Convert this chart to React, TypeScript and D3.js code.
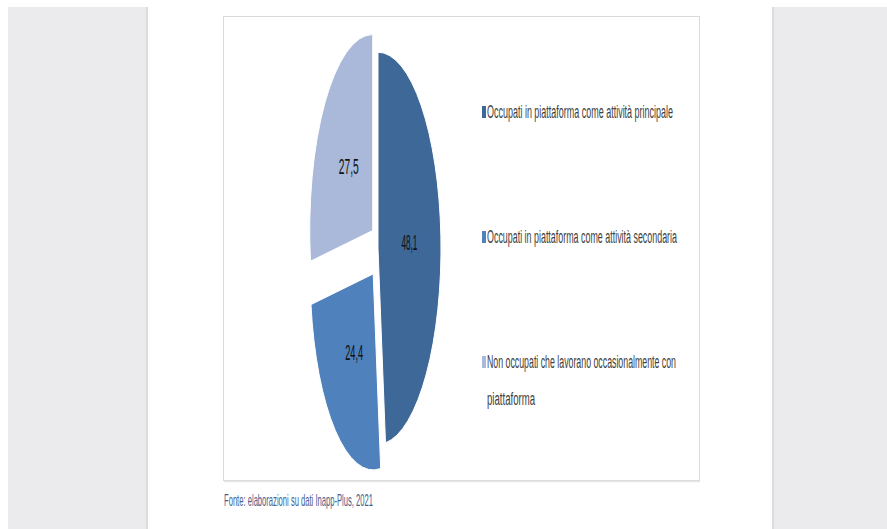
import React from "react";
import * as d3 from "d3";

const categories = [
  "Occupati in piattaforma come attività principale",
  "Occupati in piattaforma come attività secondaria",
  "Non occupati che lavorano occasionalmente con piattaforma",
];
const values = [48.1, 24.4, 27.5];
const valueLabels = ["48,1", "24,4", "27,5"];
const legendLines = [
  ["Occupati in piattaforma come attività principale"],
  ["Occupati in piattaforma come attività secondaria"],
  ["Non occupati che lavorano occasionalmente con", "piattaforma"],
];
const source = "Fonte: elaborazioni su dati Inapp-Plus, 2021";

const colors = ["#3e6898", "#4f81bd", "#aab9d9"];
const W = 887;
const H = 529;
const FONT = "'Liberation Sans Narrow', 'Liberation Sans', Arial, sans-serif";

export default function App() {
  const R = 196;
  const sx = 63 / 196;
  const cx = 375;
  const cy = 250;
  const explode = 30;
  const kx = 0.1;

  const pie = d3.pie<number>().sort(null).value((d) => d).startAngle(0);
  const arcs = pie(values);
  const arc = d3.arc<d3.PieArcDatum<number>>().innerRadius(0).outerRadius(R);

  const labelWidths = [16, 18, 20];
  const legendWidths = [[187], [191], [190, 49]];
  const legendBaselines = [[118], [243], [368, 405]];

  return (
    <svg
      width={W}
      height={H}
      style={{ position: "fixed", left: 0, top: 0, display: "block" }}
      fontFamily={FONT}
    >
      <rect x={0} y={0} width={W} height={H} fill="#ffffff" />
      <rect x={8} y={7} width={140} height={H - 7} fill="#ebebed" />
      <rect x={146} y={7} width={2} height={H - 7} fill="#dcdcdf" />
      <rect x={772} y={7} width={W - 772} height={H - 7} fill="#ebebed" />
      <rect x={772} y={7} width={2} height={H - 7} fill="#dcdcdf" />

      <rect x={223.5} y={16.5} width={476} height={464} fill="#ffffff" stroke="#d9d9d9" strokeWidth={1} />
      <line x1={224} x2={700} y1={481.5} y2={481.5} stroke="#e6e6e6" strokeWidth={1.5} />

      {arcs.map((a, i) => {
        const mid = (a.startAngle + a.endAngle) / 2;
        const ox = explode * kx * Math.sin(mid);
        const oy = -explode * Math.cos(mid);
        const tx = cx + ox;
        const ty = cy + oy;
        const [lu, lv] = arc.centroid(a);
        return (
          <g key={categories[i]}>
            <g transform={`translate(${tx},${ty}) scale(${sx},1)`}>
              <path
                d={arc(a) || ""}
                fill={colors[i]}
                stroke="#ffffff"
                strokeWidth={1}
                vectorEffect="non-scaling-stroke"
              />
            </g>
            <text
              x={tx + lu * sx}
              y={ty + lv + 7.5}
              textAnchor="middle"
              fontSize={22}
              fill="#111"
              textLength={labelWidths[i]}
              lengthAdjust="spacingAndGlyphs"
            >
              {valueLabels[i]}
            </text>
          </g>
        );
      })}

      {legendLines.map((lines, i) => (
        <g key={"lg" + i}>
          <rect x={482} y={legendBaselines[i][0] - 12} width={4} height={12} fill={colors[i]} />
          {lines.map((ln, j) => (
            <text
              key={j}
              x={487}
              y={legendBaselines[i][j]}
              fontSize={18}
              fill="#404040"
              textLength={legendWidths[i][j] - 1}
              lengthAdjust="spacingAndGlyphs"
            >
              {ln}
            </text>
          ))}
        </g>
      ))}

      <text
        x={224}
        y={506}
        fontSize={17}
        fill="#48608e"
        textLength={149}
        lengthAdjust="spacingAndGlyphs"
      >
        {source}
      </text>
    </svg>
  );
}
